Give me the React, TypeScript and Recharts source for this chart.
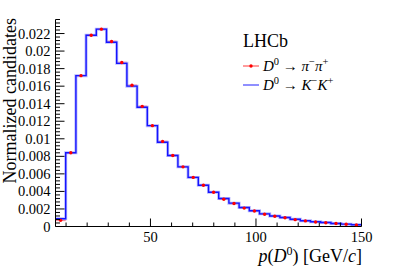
import React from 'react';
import { ComposedChart, Line, Scatter, ErrorBar, XAxis, YAxis } from 'recharts';

// p(D0) histogram, 30 bins between 5 and 150 GeV/c
const binEdges = [
  5, 9.833, 14.667, 19.5, 24.333, 29.167, 34, 38.833, 43.667, 48.5, 53.333,
  58.167, 63, 67.833, 72.667, 77.5, 82.333, 87.167, 92, 96.833, 101.667,
  106.5, 111.333, 116.167, 121, 125.833, 130.667, 135.5, 140.333, 145.167, 150,
];

// D0 -> K-K+ (blue histogram)
const kkValues = [
  0.00088, 0.0084, 0.0172, 0.0218, 0.0225, 0.021, 0.0186, 0.016, 0.0136, 0.0115,
  0.0096, 0.0081, 0.0068, 0.0056, 0.0047, 0.0039, 0.0032, 0.00266, 0.00216, 0.0018,
  0.00144, 0.0012, 0.00102, 0.00083, 0.00066, 0.00054, 0.00045, 0.00035, 0.00027, 0.0002,
];

// D0 -> pi-pi+ (red points)
const pipiValues = [
  0.0007, 0.0084, 0.0172, 0.0218, 0.0225, 0.0211, 0.0187, 0.0161, 0.0137, 0.0115,
  0.0097, 0.0081, 0.0068, 0.0056, 0.0047, 0.0039, 0.0031, 0.00262, 0.0021, 0.00177,
  0.0014, 0.00117, 0.001, 0.00078, 0.00064, 0.00052, 0.00043, 0.00034, 0.00026, 0.00018,
];
const pipiErrors = [
  0.00005, 0.0001, 0.00012, 0.00012, 0.00012, 0.00012, 0.00012, 0.00011, 0.0001, 0.0001,
  0.00009, 0.00009, 0.00008, 0.00008, 0.00007, 0.00007, 0.00006, 0.00006, 0.00006, 0.00005,
  0.00005, 0.00005, 0.00004, 0.00004, 0.00004, 0.00004, 0.00003, 0.00003, 0.00003, 0.00003,
];

const xMajorTicks = [50, 100, 150];
const xMinorTicks = [10, 20, 30, 40, 60, 70, 80, 90, 110, 120, 130, 140];
const yMajorTicks = [0, 0.002, 0.004, 0.006, 0.008, 0.01, 0.012, 0.014, 0.016, 0.018, 0.02, 0.022];
const yTickLabels = ['0', '0.002', '0.004', '0.006', '0.008', '0.01', '0.012', '0.014', '0.016', '0.018', '0.02', '0.022'];

const FONT = '"Liberation Serif", "DejaVu Serif", serif';
const Y_MAX = 0.0236;

const xTicks = [...xMinorTicks, ...xMajorTicks].sort((a, b) => a - b);
// minor y ticks: 5 subdivisions of each major step
const yTicks: number[] = [];
for (let i = 0; i <= 59; i++) yTicks.push(i * 0.0004);

const isYMajor = (v: number) => Math.round(v / 0.0004) % 5 === 0;

const lineData = binEdges.map((x, i) => ({ x, y: kkValues[Math.min(i, kkValues.length - 1)] }));
const pointData = pipiValues.map((y, i) => ({
  x: (binEdges[i] + binEdges[i + 1]) / 2,
  y,
  ex: (binEdges[i + 1] - binEdges[i]) / 2,
  ey: pipiErrors[i],
}));

function BottomTick(props: any) {
  const { x, y, payload } = props;
  const major = xMajorTicks.includes(payload.value);
  return (
    <g>
      <line x1={x} y1={y} x2={x} y2={y - (major ? 8 : 4)} stroke="#000" />
      {major && (
        <text x={x} y={y + 15.5} textAnchor="middle" fontSize={14.5} fontFamily={FONT} fill="#000">
          {payload.value}
        </text>
      )}
    </g>
  );
}

function TopTick(props: any) {
  const { x, y, payload } = props;
  const major = xMajorTicks.includes(payload.value);
  return <line x1={x} y1={y} x2={x} y2={y + (major ? 8 : 4)} stroke="#000" />;
}

function LeftTick(props: any) {
  const { x, y, payload } = props;
  const major = isYMajor(payload.value);
  const idx = Math.round(payload.value / 0.002);
  return (
    <g>
      <line x1={x} y1={y} x2={x + (major ? 9 : 4.5)} y2={y} stroke="#000" />
      {major && (
        <text x={x - 5} y={y} dy="0.35em" textAnchor="end" fontSize={14.5} fontFamily={FONT} fill="#000">
          {yTickLabels[idx]}
        </text>
      )}
    </g>
  );
}

function RightTick(props: any) {
  const { x, y, payload } = props;
  const major = isYMajor(payload.value);
  return <line x1={x} y1={y} x2={x - (major ? 9 : 4.5)} y2={y} stroke="#000" />;
}

export default function App() {
  return (
    <div style={{ position: 'absolute', left: 0, top: 0, width: 399, height: 270, background: '#fff' }}>
      <ComposedChart
        width={399}
        height={270}
        margin={{ top: 19.5, right: 37.5, bottom: 0, left: 0 }}
      >
        <XAxis
          dataKey="x"
          type="number"
          domain={[5, 150]}
          allowDataOverflow
          ticks={xTicks}
          interval={0}
          tickSize={0}
          tickMargin={0}
          tickLine={false}
          tick={<BottomTick />}
          axisLine={{ stroke: '#000' }}
          height={43.5}
        />
        <XAxis
          xAxisId="top"
          orientation="top"
          dataKey="x"
          type="number"
          domain={[5, 150]}
          allowDataOverflow
          ticks={xTicks}
          interval={0}
          tickSize={0}
          tickMargin={0}
          tickLine={false}
          tick={<TopTick />}
          axisLine={{ stroke: '#000' }}
          height={0}
        />
        <YAxis
          type="number"
          domain={[0, Y_MAX]}
          allowDataOverflow
          ticks={yTicks}
          interval={0}
          tickSize={0}
          tickMargin={0}
          tickLine={false}
          tick={<LeftTick />}
          axisLine={{ stroke: '#000' }}
          width={55.5}
        />
        <YAxis
          yAxisId="right"
          orientation="right"
          type="number"
          domain={[0, Y_MAX]}
          allowDataOverflow
          ticks={yTicks}
          interval={0}
          tickSize={0}
          tickMargin={0}
          tickLine={false}
          tick={<RightTick />}
          axisLine={{ stroke: '#000' }}
          width={0}
        />
        <Scatter data={pointData} dataKey="y" isAnimationActive={false} shape={() => <g />}>
          <ErrorBar dataKey="ex" direction="x" width={0} stroke="#ff8a8a" strokeWidth={1.5} isAnimationActive={false} />
        </Scatter>
        <Line
          data={lineData}
          dataKey="y"
          type="stepAfter"
          dot={false}
          stroke="#9a9aff"
          strokeWidth={3}
          strokeOpacity={0.7}
          isAnimationActive={false}
        />
        <Line
          data={lineData}
          dataKey="y"
          type="stepAfter"
          dot={false}
          stroke="#1414ff"
          strokeWidth={1.4}
          isAnimationActive={false}
        />
        <Scatter
          data={pointData}
          dataKey="y"
          isAnimationActive={false}
          shape={(p: any) => <circle cx={p.cx} cy={p.cy} r={1.7} fill="#ff0000" />}
        >
          <ErrorBar dataKey="ey" direction="y" width={0} stroke="#ff0000" strokeWidth={1} isAnimationActive={false} />
        </Scatter>
      </ComposedChart>
      <svg
        width={399}
        height={270}
        style={{ position: 'absolute', left: 0, top: 0, pointerEvents: 'none' }}
        fontFamily={FONT}
      >
        <text transform="translate(15.5, 18) rotate(-90)" textAnchor="end" fontSize={18} fill="#000">
          Normalized candidates
        </text>
        <text x={362} y={262} textAnchor="end" fontSize={18} fill="#000">
          <tspan fontStyle="italic">p</tspan>(<tspan fontStyle="italic">D</tspan>
          <tspan fontSize={12} dy={-7}>0</tspan>
          <tspan dy={7}>) [GeV/</tspan>
          <tspan fontStyle="italic">c</tspan>]
        </text>
        <text x={243} y={47} fontSize={18} fill="#000">LHCb</text>
        <line x1={243} y1={66} x2={259} y2={66} stroke="#ff7a7a" strokeWidth={1.5} />
        <circle cx={251} cy={66} r={1.7} fill="#ff0000" />
        <text x={263} y={71} fontSize={15} fill="#000">
          <tspan fontStyle="italic">D</tspan>
          <tspan fontSize={10.5} dy={-6}>0</tspan>
          <tspan dy={6}> → </tspan>
          <tspan fontStyle="italic">π</tspan>
          <tspan fontSize={10.5} dy={-6}>−</tspan>
          <tspan fontStyle="italic" dy={6}>π</tspan>
          <tspan fontSize={10.5} dy={-6}>+</tspan>
        </text>
        <line x1={243} y1={85} x2={259} y2={85} stroke="#6a6aff" strokeWidth={1.5} />
        <text x={263} y={90} fontSize={15} fill="#000">
          <tspan fontStyle="italic">D</tspan>
          <tspan fontSize={10.5} dy={-6}>0</tspan>
          <tspan dy={6}> → </tspan>
          <tspan fontStyle="italic">K</tspan>
          <tspan fontSize={10.5} dy={-6}>−</tspan>
          <tspan fontStyle="italic" dy={6}>K</tspan>
          <tspan fontSize={10.5} dy={-6}>+</tspan>
        </text>
      </svg>
    </div>
  );
}
